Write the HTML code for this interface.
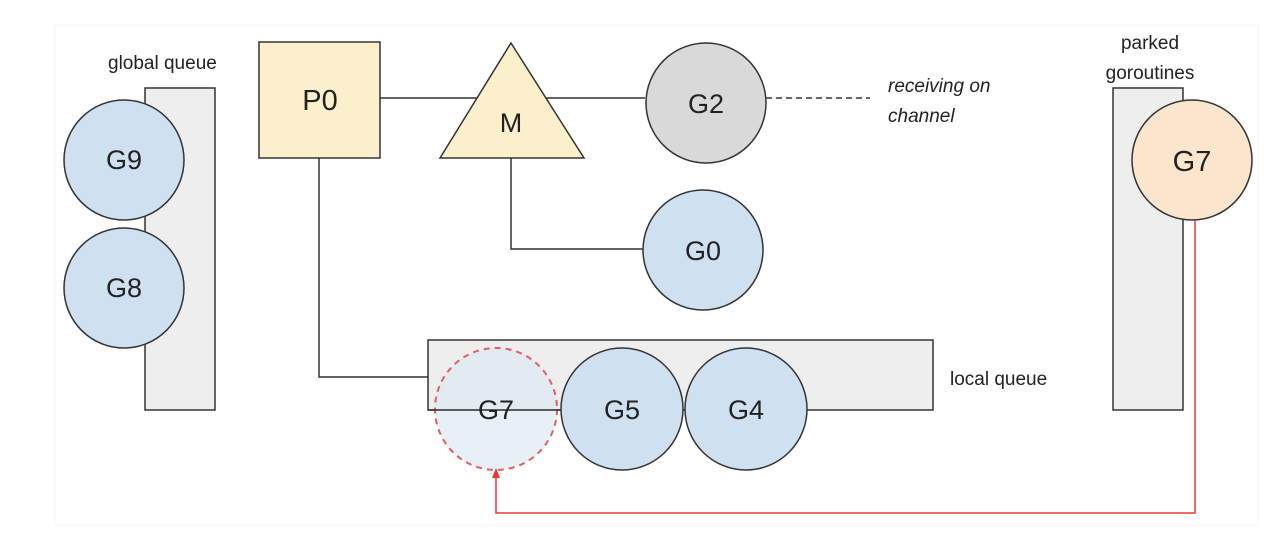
<!DOCTYPE html>
<html><head><style>body{margin:0;background:#fff}svg{display:block}</style></head><body>
<svg width="1280" height="558" xmlns="http://www.w3.org/2000/svg" font-family="Liberation Sans, Arial, sans-serif">
<rect x="55" y="25" width="1203" height="500" fill="#fff" stroke="#f6f6f6"/>
<g stroke="#333" stroke-width="1.5" fill="none">
<rect x="145" y="88" width="70" height="322" fill="#eeeeee"/>
<rect x="1113" y="88" width="70" height="322" fill="#eeeeee"/>
<line x1="380" y1="98" x2="645" y2="98"/>
<polyline points="511,158 511,249 643,249"/>
<polyline points="319,158 319,377 428,377"/>
<line x1="766" y1="98" x2="870" y2="98" stroke-dasharray="6,4"/>
<rect x="428" y="340" width="505" height="70" fill="#eeeeee"/>
</g>
<g stroke="#333" stroke-width="1.5">
<circle cx="124" cy="160" r="60" fill="#cfe0f1"/>
<circle cx="124" cy="288" r="60" fill="#cfe0f1"/>
<rect x="259" y="42" width="121" height="116" fill="#fcf0cc"/>
<polygon points="511,43 440,158 584,158" fill="#fcf0cc"/>
<circle cx="706" cy="103" r="60" fill="#d9d9d9"/>
<circle cx="703" cy="250" r="60" fill="#cfe0f1"/>
<circle cx="622" cy="409" r="61" fill="#cfe0f1"/>
<circle cx="746" cy="409" r="61" fill="#cfe0f1"/>
<circle cx="1192" cy="160" r="60" fill="#fce5cd"/>
</g>
<circle cx="496" cy="409" r="61" fill="#dde8f4" fill-opacity="0.7" stroke="#e06060" stroke-width="2" stroke-dasharray="6,5"/>
<line x1="428" y1="410" x2="561" y2="410" stroke="#333" stroke-width="1.5"/>
<polyline points="1195,220 1195,513 496,513 496,476" fill="none" stroke="#e53935" stroke-width="1.5"/>
<polygon points="496,468 492,478 500,478" fill="#e53935"/>
<g font-size="27" fill="#222" text-anchor="middle">
<text x="124" y="169">G9</text><text x="124" y="297">G8</text>
<text x="320" y="110" font-size="29">P0</text><text x="511" y="132">M</text>
<text x="706" y="113">G2</text><text x="703" y="260">G0</text>
<text x="496" y="419">G7</text><text x="622" y="419">G5</text><text x="746" y="419">G4</text>
<text x="1192" y="171" font-size="29">G7</text>
</g>
<g font-size="19" fill="#222">
<text x="108" y="69">global queue</text>
<text x="950" y="385">local queue</text>
<text x="1150" y="49" text-anchor="middle">parked</text>
<text x="1150" y="79" text-anchor="middle">goroutines</text>
<text x="888" y="92" font-style="italic">receiving on</text>
<text x="888" y="122" font-style="italic">channel</text>
</g>
</svg>
</body></html>
